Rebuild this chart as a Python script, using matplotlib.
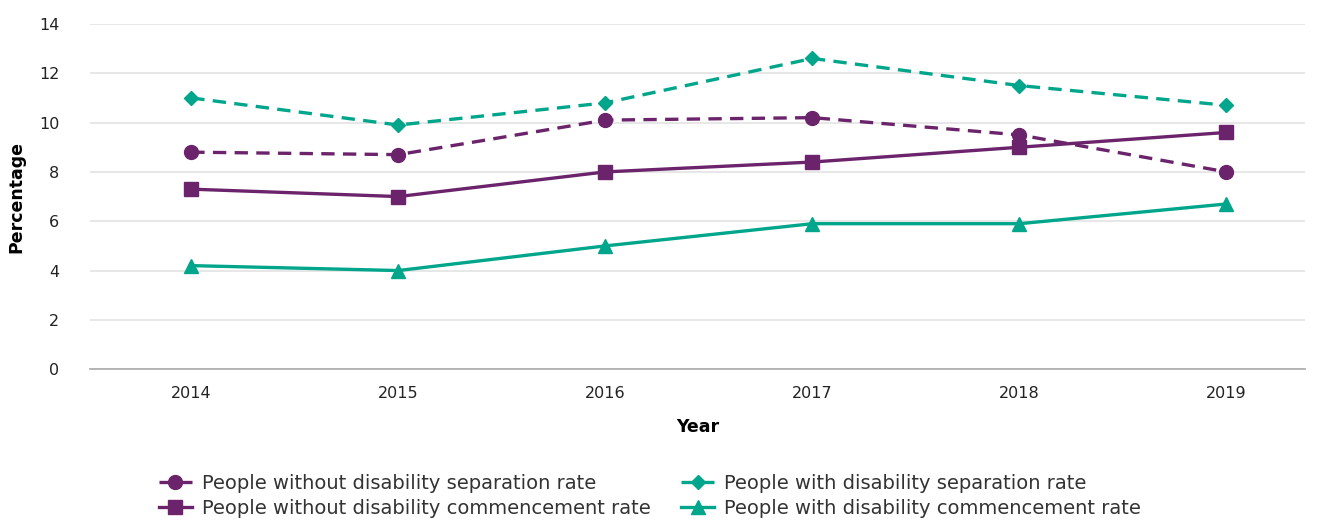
import matplotlib
matplotlib.use('Agg')
import matplotlib.pyplot as plt

years = ['2014', '2015', '2016', '2017', '2018', '2019']
without_sep = [8.8, 8.7, 10.1, 10.2, 9.5, 8.0]
without_comm = [7.3, 7.0, 8.0, 8.4, 9.0, 9.6]
with_sep = [11.0, 9.9, 10.8, 12.6, 11.5, 10.7]
with_comm = [4.2, 4.0, 5.0, 5.9, 5.9, 6.7]

purple = '#6b246b'
teal = '#00a68b'

plt.rcParams['font.family'] = ['DejaVu Sans']

fig = plt.figure(figsize=(13.21, 5.2), dpi=100)
ax = fig.add_axes([0.068, 0.29, 0.92, 0.664])

x = list(range(len(years)))
# order chosen so the 2-column legend matches the original layout
ax.plot(x, without_sep, color=purple, ls=(0, (4, 2.5)), lw=2.4, marker='o', ms=10,
        label='People without disability separation rate')
ax.plot(x, without_comm, color=purple, lw=2.4, marker='s', ms=10,
        label='People without disability commencement rate')
ax.plot(x, with_sep, color=teal, ls=(0, (4, 2.5)), lw=2.4, marker='D', ms=7,
        label='People with disability separation rate')
ax.plot(x, with_comm, color=teal, lw=2.4, marker='^', ms=10,
        label='People with disability commencement rate')

ax.set_xlim(-0.49, 5.38)
ax.set_ylim(0, 14)
ax.set_yticks(range(0, 15, 2))
ax.set_xticks(x)
ax.set_xticklabels(years)
ax.tick_params(length=0, labelsize=11.5, colors='#222222')
ax.tick_params(axis='x', pad=12)
ax.tick_params(axis='y', pad=22)
ax.grid(axis='y', color='#e3e3e3', lw=1.2)
ax.set_axisbelow(True)
for s in ['top', 'right', 'left']:
    ax.spines[s].set_visible(False)
ax.spines['bottom'].set_color('#aaaaaa')
ax.spines['bottom'].set_linewidth(1.2)

ax.set_xlabel('Year', fontsize=12.5, fontweight='bold', labelpad=12)
ax.set_ylabel('Percentage', fontsize=12.5, fontweight='bold', labelpad=10)

fig.legend(loc='center', bbox_to_anchor=(0.492, 0.046), ncol=2, frameon=False,
           fontsize=14, handlelength=1.7, columnspacing=1.6, labelspacing=0.3,
           handletextpad=0.5, borderpad=0, labelcolor='#333333')

fig.savefig('out.png', dpi=100)
